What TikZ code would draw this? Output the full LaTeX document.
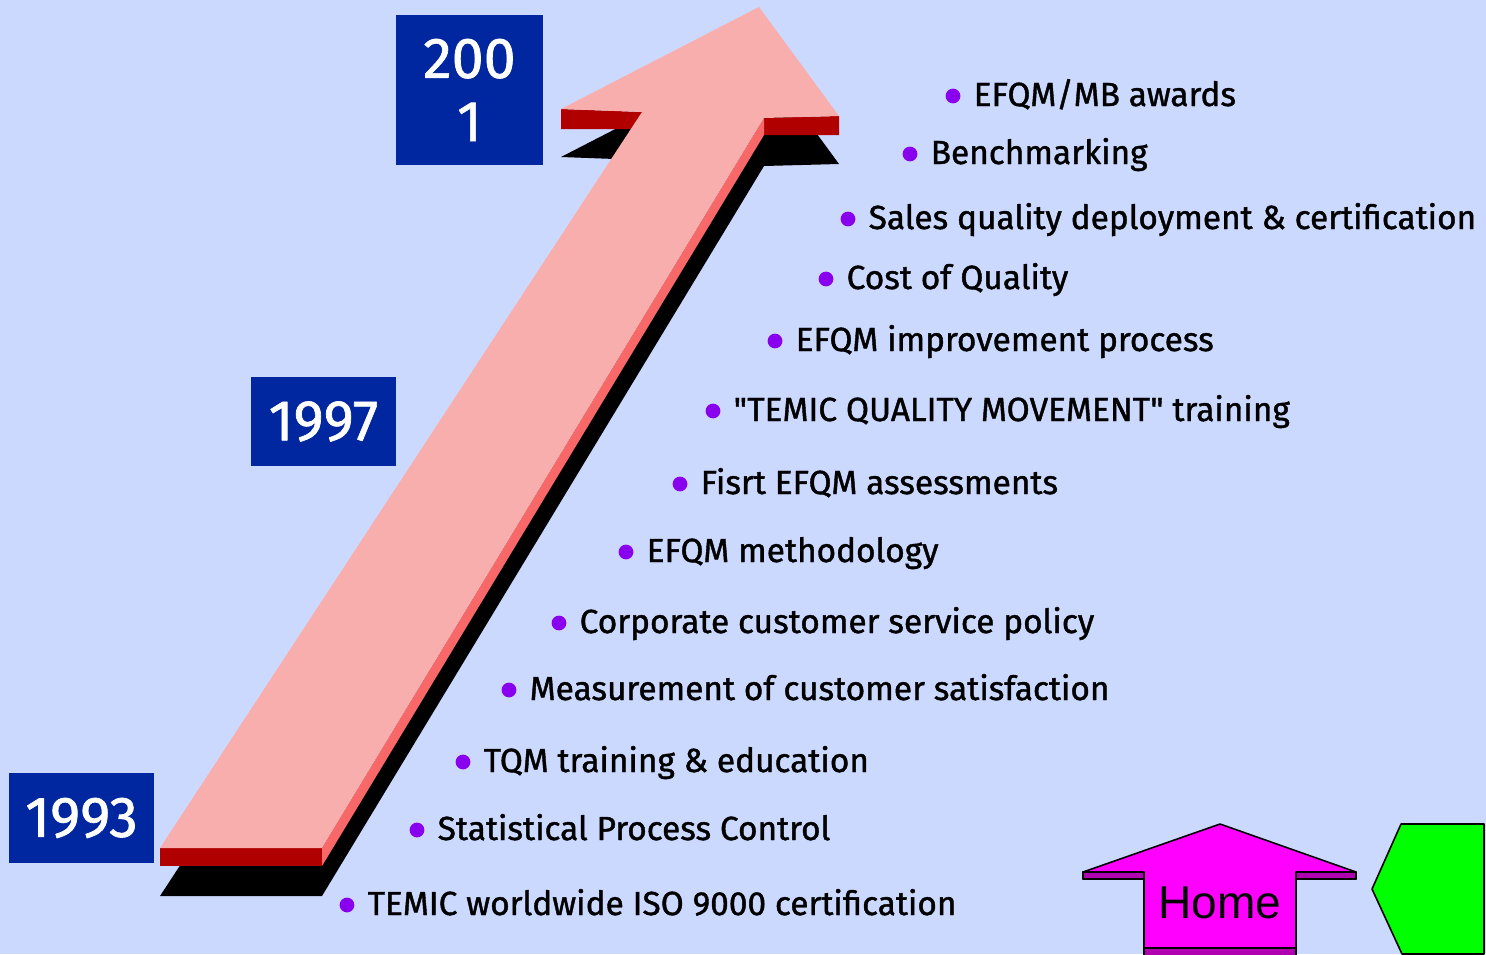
\documentclass[tikz,border=0pt]{standalone}
\usepackage{fontspec}
\setmainfont{Fira Sans}[FakeBold=1.2, Ligatures=TeXOff]
\newfontfamily\homefont{Liberation Sans}
\definecolor{bgblue}{RGB}{204,217,255}
\definecolor{facepink}{RGB}{249,174,174}
\definecolor{sidered}{RGB}{248,104,104}
\definecolor{barred}{RGB}{176,0,0}
\definecolor{yearblue}{RGB}{0,38,160}
\definecolor{dotviolet}{RGB}{136,0,238}
\definecolor{homemag}{RGB}{255,0,255}
\definecolor{homedark}{RGB}{176,0,176}
\begin{document}
\begin{tikzpicture}[x=0.01cm, y=-0.01cm, line join=round,
    yearbox/.style={fill=yearblue, text=white, inner sep=0pt, align=center, font=\fontsize{16.3}{18}\selectfont},
    item/.style={anchor=base west, inner sep=0pt, font=\fontsize{9.5}{11}\selectfont},
    dot/.style={fill=dotviolet}]
	\fill[bgblue] (0,0) rectangle (1486,954);
	\useasboundingbox (0,0) rectangle (1486,954);
	\fill[black] (160,896)--(322,896)--(764,166)--(839,164)--(759,55)--(561,157)--(642,160)--cycle;
	\fill[barred] (561,109)--(642,112)--(642,129)--(561,129)--cycle;
	\fill[barred] (764,118)--(839,116)--(839,135)--(764,135)--cycle;
	\fill[barred] (160,848) rectangle (322,866);
	\fill[sidered] (764,118)--(764,135)--(322,866)--(322,848)--cycle;
	\fill[facepink] (160,848)--(322,848)--(764,118)--(839,116)--(759,7)--(561,109)--(642,112)--cycle;
	\node[yearbox, minimum width=1.47cm, minimum height=1.50cm] (y2001) at (469.5,90) {200\\1};
	\node[yearbox, minimum width=1.45cm, minimum height=0.89cm] (y1997) at (323.5,421.5) {1997};
	\node[yearbox, minimum width=1.45cm, minimum height=0.90cm] (y1993) at (81.5,818) {1993};
	\foreach \x/\y/\txt [count=\i] in {
		973/106/{EFQM/MB awards},
		930/164/{Benchmarking},
		868/229/{Sales quality deployment \& certification},
		846/289/{Cost of Quality},
		795/351/{EFQM improvement process},
		733/421/{"TEMIC QUALITY MOVEMENT" training},
		700/494/{Fisrt EFQM assessments},
		646/562/{EFQM methodology},
		579/633/{Corporate customer service policy},
		529/700/{Measurement of customer satisfaction},
		483/772/{TQM training \& education},
		437/840/{Statistical Process Control},
		367/915/{TEMIC worldwide ISO 9000 certification}}{
		\node[item] (t\i) at (\x,\y) {\txt};
		\fill[dot] ([shift={(-20,-10)}]t\i.base west) circle (2.1pt);
	}
	\draw[line width=0.45pt, fill=homemag] (1144,960)--(1144,879)--(1083,879)--(1083,872)--(1220,824)--(1356,872)--(1356,879)--(1296,879)--(1296,960);
	\draw[line width=0.45pt, fill=homedark] (1083,872) rectangle (1144,879);
	\draw[line width=0.45pt, fill=homedark] (1296,872) rectangle (1356,879);
	\draw[line width=0.45pt, fill=homedark] (1144,948) rectangle (1296,960);
	\node[font=\homefont\fontsize{13.1}{15}\selectfont, inner sep=0pt] (home) at (1220,903) {Home};
	\draw[line width=0.45pt, fill=green] (1401,824)--(1484,824)--(1484,954)--(1402,954)--(1372,889)--cycle;
\end{tikzpicture}
\end{document}
